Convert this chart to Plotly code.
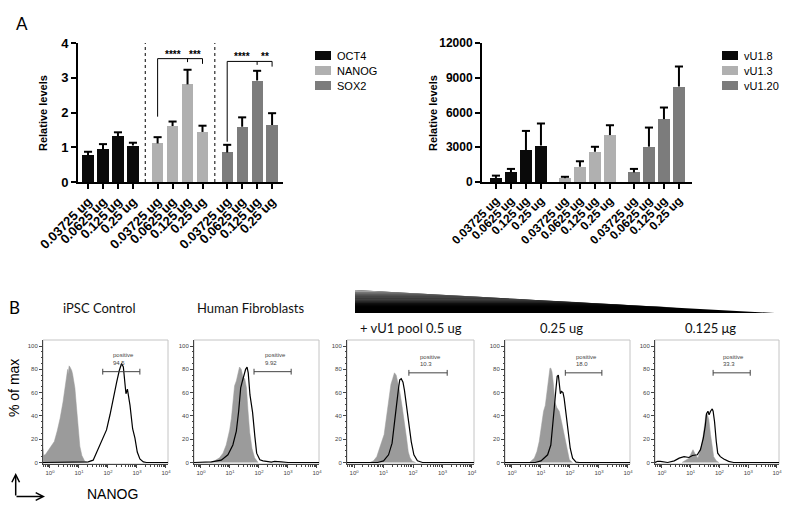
import plotly.graph_objects as go

W, H = 796, 512


def px(x):
    return x / W


def py(y):
    return 1 - y / H


# ---------------- Panel A data ----------------
doses = ["0.03725 ug", "0.0625 ug", "0.125 ug", "0.25 ug"]
gene_names = ["OCT4", "NANOG", "SOX2"]
oct4_mean = [0.77, 0.94, 1.31, 1.05]
oct4_err = [0.10, 0.15, 0.12, 0.08]
nanog_mean = [1.11, 1.61, 2.81, 1.44]
nanog_err = [0.18, 0.13, 0.42, 0.18]
sox2_mean = [0.85, 1.59, 2.92, 1.64]
sox2_err = [0.22, 0.27, 0.28, 0.34]
left_yticks = [0, 1, 2, 3, 4]
sig_nanog = ["****", "***"]
sig_sox2 = ["****", "**"]

vu_names = ["vU1.8", "vU1.3", "vU1.20"]
vu18_mean = [350, 830, 2760, 3150]
vu18_err = [200, 300, 1650, 1900]
vu13_mean = [330, 1320, 2610, 4050]
vu13_err = [120, 470, 430, 850]
vu120_mean = [830, 3050, 5430, 8240]
vu120_err = [300, 1650, 1000, 1730]
right_yticks = [0, 3000, 6000, 9000, 12000]

bar_colors = ["#0a0a0a", "#b0b0b0", "#7c7c7c"]

# ---------------- Panel B data (log10 NANOG intensity, % of max) ----------------
flow_titles = ["iPSC Control", "Human Fibroblasts", "+ vU1 pool 0.5 ug", "0.25 ug", "0.125 μg"]
positive_pct = ["94.5", "9.92", "10.3", "18.0", "33.3"]
gate_lo = [1.82, 1.83, 1.86, 1.84, 1.78]
gate_hi = [3.10, 3.11, 3.16, 3.10, 3.07]
gate_level = [78, 78, 77, 77, 77]
label_x = [2.09, 2.14, 2.18, 2.13, 2.06]

p1_iso_x = [-0.24, -0.22, -0.15, -0.05, 0.05, 0.15, 0.25, 0.35, 0.45, 0.52, 0.58, 0.61, 0.63, 0.66, 0.69, 0.72, 0.75, 0.78, 0.82, 0.86, 0.90, 0.94, 0.98, 1.03, 1.10, 1.20, 1.30]
p1_iso_y = [12, 6, 7, 11, 14, 18, 27, 38, 52, 64, 74, 80, 76, 83, 82, 81, 79, 76, 70, 64, 52, 38, 26, 14, 6, 1, 0]
p1_pos_x = [-0.24, 1.20, 1.32, 1.49, 1.67, 1.84, 1.95, 2.07, 2.18, 2.30, 2.39, 2.47, 2.53, 2.58, 2.62, 2.67, 2.76, 2.85, 2.93, 3.01, 3.10, 3.22, 3.33, 4.07]
p1_pos_y = [0, 0, 0.5, 2, 12, 23, 28, 41, 56, 69, 79, 85, 82, 70, 59, 63, 49, 29, 21, 9, 3, 0.5, 0, 0]

p2_iso_x = [0.30, 0.47, 0.64, 0.76, 0.87, 0.99, 1.05, 1.10, 1.16, 1.22, 1.28, 1.33, 1.39, 1.45, 1.51, 1.57, 1.62, 1.68, 1.76, 1.85, 1.97]
p2_iso_y = [0, 1.4, 4, 8, 15, 28, 38, 50, 66, 70, 76, 82, 80, 73, 72, 64, 45, 26, 12, 4, 0]
p2_pos_x = [-0.24, 0.36, 0.70, 0.93, 1.10, 1.22, 1.30, 1.37, 1.43, 1.48, 1.54, 1.59, 1.63, 1.69, 1.78, 1.86, 1.92, 2.03, 2.14, 2.43, 2.54, 2.77, 3.00, 4.07]
p2_pos_y = [0, 0.5, 2, 6.6, 15, 27, 44, 64, 70, 75.5, 80, 82, 77, 58, 43, 22, 8, 2.3, 1.4, 0.3, 0.9, 0.6, 0, 0]

p3_iso_x = [0.54, 0.66, 0.77, 0.86, 0.94, 1.02, 1.09, 1.15, 1.21, 1.25, 1.31, 1.37, 1.43, 1.48, 1.55, 1.63, 1.71, 1.78, 1.84, 1.90, 1.98, 2.09]
p3_iso_y = [0, 1.4, 5, 11, 18, 24, 38, 52, 59, 67, 72, 77, 75, 69, 61, 48, 35, 21, 9, 4, 1, 0]
p3_pos_x = [-0.24, 0.80, 1.00, 1.17, 1.29, 1.37, 1.44, 1.51, 1.55, 1.60, 1.66, 1.71, 1.78, 1.86, 1.94, 2.03, 2.15, 2.32, 4.07]
p3_pos_y = [0, 0, 1.4, 6.6, 16.6, 32, 49, 64, 71, 72, 69, 62, 49, 35, 18, 6.6, 1.4, 0, 0]

p4_iso_x = [0.60, 0.77, 0.86, 0.94, 1.02, 1.09, 1.15, 1.21, 1.26, 1.31, 1.34, 1.38, 1.43, 1.48, 1.55, 1.63, 1.71, 1.78, 1.86, 1.92, 1.98, 2.09]
p4_iso_y = [0, 3.7, 9.4, 18, 32, 44, 49, 61, 75, 81, 81, 78, 67, 52, 47, 44, 35, 27, 18, 9.4, 2.3, 0]
p4_pos_x = [-0.24, 0.80, 1.00, 1.23, 1.34, 1.40, 1.46, 1.52, 1.56, 1.60, 1.63, 1.67, 1.71, 1.76, 1.80, 1.86, 1.94, 2.01, 2.09, 2.21, 2.32, 4.07]
p4_pos_y = [0, 0, 1.4, 6.6, 15, 29, 47, 64, 74, 75, 69, 59, 61, 60, 55, 44, 27, 12, 3.7, 0.3, 0, 0]

p5_iso_x = [0.70, 0.77, 0.94, 1.02, 1.08, 1.14, 1.21, 1.25, 1.32, 1.38, 1.44, 1.48, 1.53, 1.57, 1.63, 1.69, 1.75, 1.80, 1.89, 1.98]
p5_iso_y = [0, 1, 3.7, 8, 11, 8, 4.3, 3.7, 9.4, 15, 24, 32, 41, 42, 37, 24, 12, 5, 1.4, 0]
p5_pos_x = [-0.24, -0.15, -0.05, 0.08, 0.20, 0.43, 0.60, 0.77, 0.94, 1.06, 1.14, 1.23, 1.34, 1.44, 1.51, 1.55, 1.60, 1.64, 1.69, 1.75, 1.78, 1.83, 1.89, 1.94, 2.03, 2.15, 2.32, 2.49, 4.07]
p5_pos_y = [0, 1, 1, 0.5, 0, 1.4, 3.7, 5, 4.3, 6, 6, 6.6, 11, 21, 32, 42, 44, 41, 44, 46, 44, 35, 18, 8, 5, 3, 1, 0, 0]

iso_x = [p1_iso_x, p2_iso_x, p3_iso_x, p4_iso_x, p5_iso_x]
iso_y = [p1_iso_y, p2_iso_y, p3_iso_y, p4_iso_y, p5_iso_y]
pos_x = [p1_pos_x, p2_pos_x, p3_pos_x, p4_pos_x, p5_pos_x]
pos_y = [p1_pos_y, p2_pos_y, p3_pos_y, p4_pos_y, p5_pos_y]

# ---------------- figure ----------------
fig = go.Figure()
shapes = []
annotations = []
FONT = "Arial, Liberation Sans, sans-serif"
TFONT = "Lato, Open Sans, sans-serif"


def note(x, y, text, size, family=FONT, color="black", weight="normal", xanchor="center", angle=0):
    annotations.append(dict(xref="paper", yref="paper", x=px(x), y=py(y), text=text, showarrow=False,
                            xanchor=xanchor, yanchor="middle", textangle=angle,
                            font=dict(family=family, size=size, color=color, weight=weight)))


def add_group(xa, ya, xs, means, errs, color, cap):
    fig.add_trace(go.Bar(x=xs, y=means, width=0.75, marker=dict(color=color, line=dict(width=0)),
                         xaxis=xa, yaxis=ya, showlegend=False))
    ex, ey = [], []
    for x, m, e in zip(xs, means, errs):
        ex += [x, x, None, x - cap, x + cap, None]
        ey += [m, m + e, None, m + e, m + e, None]
    fig.add_trace(go.Scatter(x=ex, y=ey, mode="lines", line=dict(color="black", width=2),
                             xaxis=xa, yaxis=ya, showlegend=False, hoverinfo="skip"))


# left chart
L_OFF = 4.65
left_sets = [(oct4_mean, oct4_err), (nanog_mean, nanog_err), (sox2_mean, sox2_err)]
left_pos = []
for g, (m, e) in enumerate(left_sets):
    xs = [g * L_OFF + i for i in range(len(doses))]
    left_pos.append(xs)
    add_group("x", "y", xs, m, e, bar_colors[g], 0.27)

# right chart
R_OFF = 4.6
right_sets = [(vu18_mean, vu18_err), (vu13_mean, vu13_err), (vu120_mean, vu120_err)]
right_pos = []
for g, (m, e) in enumerate(right_sets):
    xs = [g * R_OFF + i for i in range(len(doses))]
    right_pos.append(xs)
    add_group("x2", "y2", xs, m, e, bar_colors[g], 0.27)

# separators (dotted)
for a, b in [(left_pos[0][-1], left_pos[1][0]), (left_pos[1][-1], left_pos[2][0])]:
    xm = (a + b) / 2
    shapes.append(dict(type="line", xref="x", yref="y", x0=xm, x1=xm, y0=0, y1=4,
                       line=dict(color="black", width=1, dash="dot")))

# significance brackets
for xs, top, low, sig in [(left_pos[1], 3.55, 1.88, sig_nanog), (left_pos[2], 3.47, 1.16, sig_sox2)]:
    ln = dict(color="black", width=1)
    shapes.append(dict(type="line", xref="x", yref="y", x0=xs[0], x1=xs[3], y0=top, y1=top, line=ln))
    shapes.append(dict(type="line", xref="x", yref="y", x0=xs[0], x1=xs[0], y0=low, y1=top, line=ln))
    shapes.append(dict(type="line", xref="x", yref="y", x0=xs[3], x1=xs[3], y0=top - 0.15, y1=top, line=ln))
    shapes.append(dict(type="line", xref="x", yref="y", x0=xs[2], x1=xs[2], y0=top - 0.1, y1=top, line=ln))
    for xx, s in [(xs[1], sig[0]), ((xs[2] + xs[3]) / 2, sig[1])]:
        annotations.append(dict(xref="x", yref="y", x=xx, y=top + 0.13, text=s, showarrow=False,
                                xanchor="center", yanchor="middle",
                                font=dict(family=FONT, size=10, color="black", weight="bold")))

axis_common = dict(showline=True, linecolor="black", linewidth=2, ticks="outside", ticklen=5,
                   tickwidth=2, tickcolor="black", showgrid=False, zeroline=False)

all_left = [x for xs in left_pos for x in xs]
all_right = [x for xs in right_pos for x in xs]

layout_axes = dict(
    xaxis=dict(domain=[px(78), px(283)], range=[-0.67, 13.03], anchor="y", tickvals=all_left,
               ticktext=doses * 3, tickangle=-45,
               tickfont=dict(family=FONT, size=13, color="black", weight="bold"), **axis_common),
    yaxis=dict(domain=[py(182), py(43)], range=[0, 4], anchor="x", tickvals=left_yticks,
               ticktext=[str(v) for v in left_yticks],
               tickfont=dict(family=FONT, size=13, color="black", weight="bold"), **axis_common),
    xaxis2=dict(domain=[px(482), px(692)], range=[-0.93, 13.07], anchor="y2", tickvals=all_right,
                ticktext=doses * 3, tickangle=-45,
                tickfont=dict(family=FONT, size=12, color="black", weight="bold"), **axis_common),
    yaxis2=dict(domain=[py(182), py(43)], range=[0, 12000], anchor="x2", tickvals=right_yticks,
                ticktext=[str(v) for v in right_yticks],
                tickfont=dict(family=FONT, size=12, color="black", weight="bold"), **axis_common),
)

# legends (manual)
for names, rx in [(gene_names, 315), (vu_names, 722)]:
    for i, nm in enumerate(names):
        yc = 55.5 + i * 15
        shapes.append(dict(type="rect", xref="paper", yref="paper", x0=px(rx), x1=px(rx + 16),
                           y0=py(yc + 4.5), y1=py(yc - 4.5), fillcolor=bar_colors[i], line=dict(width=0)))
        note(rx + 20, yc, nm, 11, xanchor="left")

for xx in [43, 433]:
    note(xx, 113, "Relative levels", 11, weight="bold", angle=-90)

note(22, 23, "A", 17, family=TFONT)
note(15, 307, "B", 17, family=TFONT)

# ---------------- flow panels ----------------
panel_left = [43, 194, 347, 505, 655]
panel_right = [168, 319, 474, 630, 779]
title_pos = [(99, 308), (250, 308), (411, 328), (561, 328), (710, 328)]
decades = [1, 10, 100, 1000, 10000]
minor_x = [k * 10 ** d for d in range(-1, 5) for k in range(2, 10)]
pct_ticks = [0, 20, 40, 60, 80, 100]
minor_y = [v for v in range(0, 101, 5) if v % 20]

for k in range(5):
    xa = "x%d" % (k + 3)
    ya = "y%d" % (k + 3)
    fig.add_trace(go.Scatter(x=[10 ** v for v in iso_x[k]], y=iso_y[k], mode="lines", fill="tozeroy",
                             fillcolor="#9b9b9b", line=dict(color="#9b9b9b", width=0.5),
                             xaxis=xa, yaxis=ya, showlegend=False))
    fig.add_trace(go.Scatter(x=[10 ** v for v in pos_x[k]], y=pos_y[k], mode="lines",
                             line=dict(color="black", width=1.2),
                             xaxis=xa, yaxis=ya, showlegend=False))
    lo, hi, gy = 10 ** gate_lo[k], 10 ** gate_hi[k], gate_level[k]
    fig.add_trace(go.Scatter(x=[lo, lo, None, lo, hi, None, hi, hi],
                             y=[gy - 2.5, gy + 2.5, None, gy, gy, None, gy - 2.5, gy + 2.5],
                             mode="lines", line=dict(color="#444", width=1),
                             xaxis=xa, yaxis=ya, showlegend=False, hoverinfo="skip"))
    for yy, txt in [(gy + 14, "positive"), (gy + 7.5, positive_pct[k])]:
        annotations.append(dict(xref=xa, yref=ya, x=label_x[k], y=yy, text=txt, showarrow=False,
                                xanchor="left", yanchor="middle", font=dict(family=FONT, size=6, color="#444")))
    layout_axes["xaxis%d" % (k + 3)] = dict(
        type="log", domain=[px(panel_left[k]), px(panel_right[k])], range=[-0.24, 4.07], anchor=ya,
        showline=True, linecolor="#444", linewidth=1, ticks="outside", ticklen=3, tickcolor="#444",
        tickvals=decades, ticktext=["10<sup>%d</sup>" % i for i in range(5)],
        tickfont=dict(family=FONT, size=6, color="#444"), showgrid=False, zeroline=False,
        minor=dict(tickvals=minor_x, ticks="outside", ticklen=2, tickcolor="#444", showgrid=False))
    layout_axes["yaxis%d" % (k + 3)] = dict(
        domain=[py(464), py(340)], range=[-1.3, 105.2], anchor=xa,
        showline=True, linecolor="#444", linewidth=1, ticks="outside", ticklen=3, tickcolor="#444",
        tickvals=pct_ticks, ticktext=[str(v) for v in pct_ticks],
        tickfont=dict(family=FONT, size=6, color="#444"), showgrid=False,
        zeroline=False, minor=dict(tickvals=minor_y, ticks="outside", ticklen=1.5, tickcolor="#444",
                                   showgrid=False))
    shapes.append(dict(type="rect", xref="paper", yref="paper", x0=px(panel_left[k]), x1=px(panel_right[k]),
                       y0=py(464), y1=py(340), line=dict(color="#c4c4c4", width=1), layer="below"))
    tx, ty = title_pos[k]
    note(tx, ty, flow_titles[k], 13, family=TFONT, color="#111")

note(14, 388, "% of max", 14, angle=-90)
note(112, 494, "NANOG", 14)
# axis-direction arrows
annotations.append(dict(xref="paper", yref="paper", x=px(15.7), y=py(473), ax=0, ay=24, text="",
                        showarrow=True, arrowhead=5, arrowsize=1, arrowwidth=1.5, arrowcolor="black"))
annotations.append(dict(xref="paper", yref="paper", x=px(45), y=py(496.5), ax=-30, ay=0, text="",
                        showarrow=True, arrowhead=5, arrowsize=1, arrowwidth=1.5, arrowcolor="black"))

# dose wedge with gradient near its tall end
TX0, TX1, TY0, TY1 = 355, 775, 290, 313


def edge_x(y):
    return TX0 + (y - TY0) / (TY1 - TY0) * (TX1 - TX0)


shapes.append(dict(type="path", xref="paper", yref="paper",
                   path="M %f,%f L %f,%f L %f,%f Z" % (px(TX0), py(TY0), px(TX1), py(TY1), px(TX0), py(TY1)),
                   fillcolor="black", line=dict(width=0)))
n = 16
for i in range(n):
    ya_ = TY0 + i * 1.1
    yb_ = ya_ + 1.1
    t = i / (n - 1)
    c = int(175 * (1 - t) ** 1.3)
    shapes.append(dict(type="path", xref="paper", yref="paper",
                       path="M %f,%f L %f,%f L %f,%f L %f,%f Z" % (
                           px(TX0), py(ya_), px(edge_x(ya_)), py(ya_), px(edge_x(yb_)), py(yb_),
                           px(TX0), py(yb_)),
                       fillcolor="rgb(%d,%d,%d)" % (c, c, c), line=dict(width=0)))

fig.update_layout(width=W, height=H, margin=dict(l=0, r=0, t=0, b=0, autoexpand=False),
                  paper_bgcolor="white", plot_bgcolor="rgba(0,0,0,0)", shapes=shapes,
                  annotations=annotations, bargap=0, hovermode=False, **layout_axes)

fig.write_html("out.html", config={"displayModeBar": False},
               post_script="document.body.style.margin='0px';")
